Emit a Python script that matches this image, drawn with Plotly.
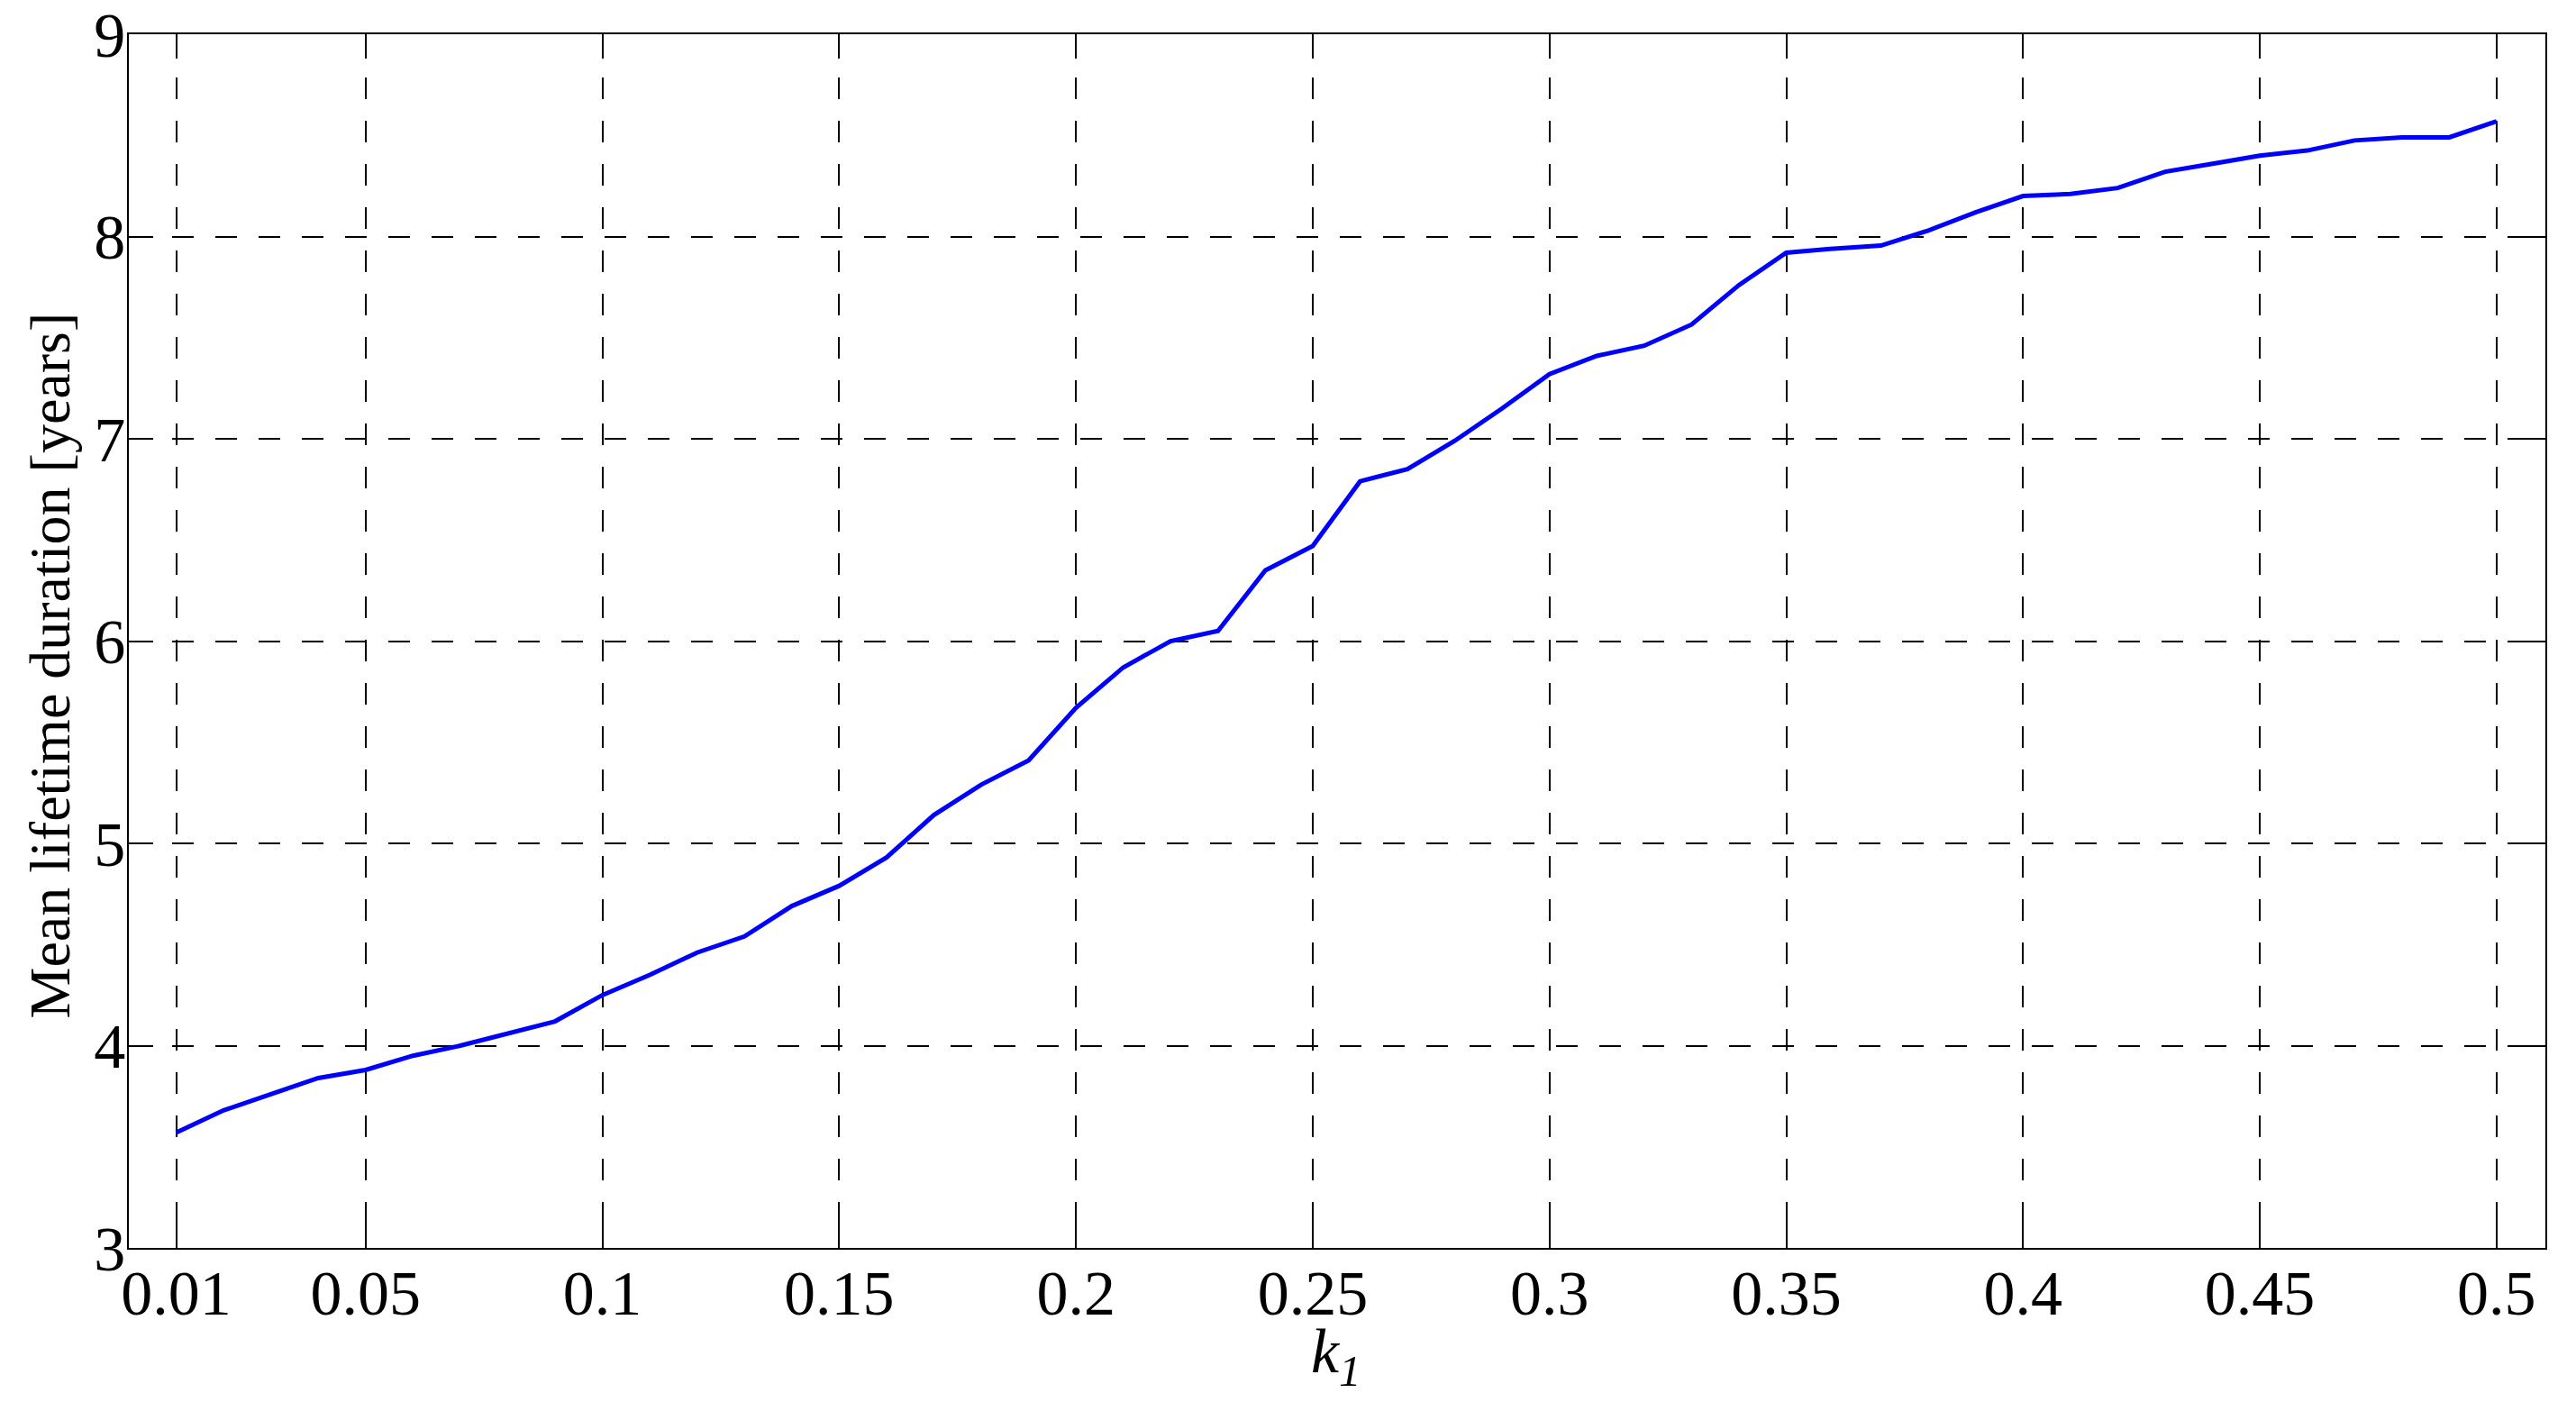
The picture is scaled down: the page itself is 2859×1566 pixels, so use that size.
import plotly.graph_objects as go

# data
k1 = [0.01, 0.02, 0.03, 0.04, 0.05, 0.06, 0.07, 0.08, 0.09, 0.10,
      0.11, 0.12, 0.13, 0.14, 0.15, 0.16, 0.17, 0.18, 0.19, 0.20,
      0.21, 0.22, 0.23, 0.24, 0.25, 0.26, 0.27, 0.28, 0.29, 0.30,
      0.31, 0.32, 0.33, 0.34, 0.35, 0.36, 0.37, 0.38, 0.39, 0.40,
      0.41, 0.42, 0.43, 0.44, 0.45, 0.46, 0.47, 0.48, 0.49, 0.50]
mean_life = [3.57, 3.68, 3.76, 3.84, 3.88, 3.95, 4.00, 4.06, 4.12, 4.25,
             4.35, 4.46, 4.54, 4.69, 4.79, 4.93, 5.14, 5.29, 5.41, 5.67,
             5.87, 6.00, 6.05, 6.35, 6.47, 6.79, 6.85, 6.99, 7.15, 7.32,
             7.41, 7.46, 7.565, 7.76, 7.92, 7.94, 7.955, 8.03, 8.12, 8.20,
             8.21, 8.24, 8.32, 8.36, 8.40, 8.425, 8.475, 8.49, 8.49, 8.57]

x_ticks = [0.01, 0.05, 0.1, 0.15, 0.2, 0.25, 0.3, 0.35, 0.4, 0.45, 0.5]
x_ticktext = ["0.01", "0.05", "0.1", "0.15", "0.2", "0.25", "0.3", "0.35", "0.4", "0.45", "0.5"]
y_ticks = [3, 4, 5, 6, 7, 8, 9]

font = "Liberation Serif"

fig = go.Figure()
fig.add_trace(go.Scatter(
    x=k1, y=mean_life, mode="lines",
    line=dict(color="rgb(0,0,255)", width=5),
    showlegend=False,
))

axis_style = dict(
    showline=True, linecolor="black", linewidth=1.5, mirror="ticks",
    ticks="inside", ticklen=27, tickwidth=1.5, tickcolor="black",
    showgrid=True, gridcolor="black", gridwidth=1.5, griddash="24px,24px",
    zeroline=False, automargin=False,
    tickfont=dict(family=font, size=70, color="black"),
)

fig.update_xaxes(range=[0.0, 0.5103], tickvals=x_ticks, ticktext=x_ticktext,
                 ticklabelstandoff=-12, **axis_style)
fig.update_yaxes(range=[3, 9], tickvals=y_ticks, ticklabelstandoff=-12, **axis_style)

# axis titles
fig.add_annotation(
    text="<i>k</i><sub><i>1</i></sub>", xref="x", x=0.25, xanchor="left", xshift=-4,
    yref="paper", y=0, yanchor="top", yshift=-74, showarrow=False,
    font=dict(family=font, size=70, color="black"),
)
fig.add_annotation(
    text="Mean lifetime duration [years]", xref="paper", x=0, xanchor="center", xshift=-88,
    yref="paper", y=0.48, yanchor="middle", textangle=-90, showarrow=False,
    font=dict(family=font, size=64, color="black"),
)

fig.update_layout(
    width=2859, height=1566,
    margin=dict(l=143, r=34, t=38, b=181),
    plot_bgcolor="white", paper_bgcolor="white",
)

fig.write_html("out.html", config={"displayModeBar": False},
               post_script="document.body.style.margin='0';")
